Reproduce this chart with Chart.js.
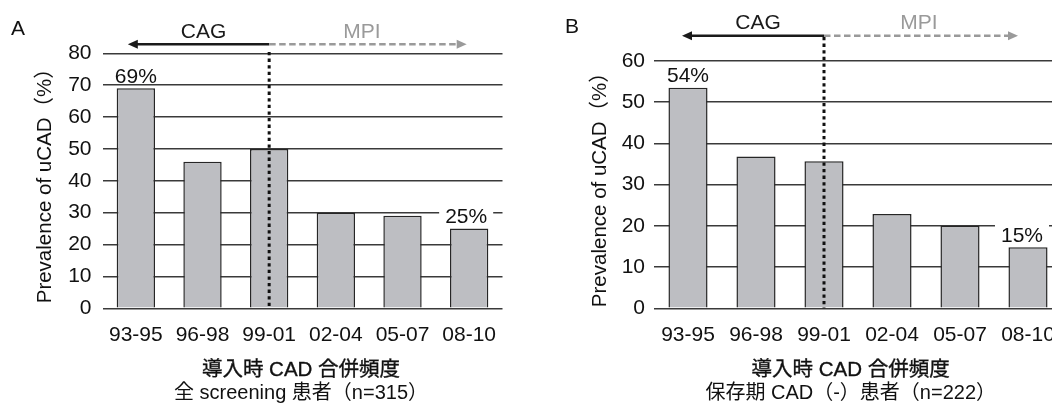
<!DOCTYPE html>
<html><head><meta charset="utf-8">
<script src="https://cdn.jsdelivr.net/npm/chart.js@4"></script>
<style>
html,body{margin:0;padding:0;background:#fff;overflow:hidden;width:1052px;height:403px;position:relative;}
#wrapA{position:absolute;left:0;top:0;width:530px;height:403px;}
#wrapB{position:absolute;left:530px;top:0;width:540px;height:403px;}
canvas{display:block;}
</style></head><body>
<div id="wrapA"><canvas id="cA" width="530" height="403"></canvas></div>
<div id="wrapB"><canvas id="cB" width="540" height="403"></canvas></div>
<script>
// ---- data ----
const categories = ["93-95", "96-98", "99-01", "02-04", "05-07", "08-10"];
const valuesA = [69, 46, 50, 30, 29, 25];
const valuesB = [53.5, 36.8, 35.7, 22.9, 20, 14.8];
const pctLabelsA = ["69%", "", "", "", "", "25%"];
const pctLabelsB = ["54%", "", "", "", "", "15%"];
const yTicksA = [0, 10, 20, 30, 40, 50, 60, 70, 80];
const yTicksB = [0, 10, 20, 30, 40, 50, 60];
const yTitle = "Prevalence of uCAD（%）";
const xTitleLine1 = "導入時 CAD 合併頻度";
const xTitleLine2A = "全 screening 患者（n=315）";
const xTitleLine2B = "保存期 CAD（-）患者（n=222）";
const panelLetterA = "A";
const panelLetterB = "B";
const methodLeft = "CAG";
const methodRight = "MPI";
const splitIndex = 2; // method change at 99-01

const FONT = '"Liberation Sans", "Noto Sans CJK JP", sans-serif';
const TXT = '#111111';

function annotPlugin(cfg) {
  return {
    id: 'annot_' + cfg.id,
    afterDatasetsDraw(chart) {
      const ctx = chart.ctx;
      const xs = chart.scales.x, ys = chart.scales.y;
      const ca = chart.chartArea;
      ctx.save();
      // percent labels
      ctx.font = '21px ' + FONT;
      ctx.textAlign = 'center';
      ctx.textBaseline = 'middle';
      cfg.pct.forEach((t, i) => {
        if (!t) return;
        const x = xs.getPixelForValue(i) + (i === cfg.pct.length - 1 ? cfg.lastLblOff : 0);
        const y = ys.getPixelForValue(cfg.values[i]) - 11.5;
        if (i === cfg.pct.length - 1) {
          const w = ctx.measureText(t).width + 12;
          ctx.fillStyle = '#fff';
          ctx.fillRect(x - w / 2, y - 11, w, 22);
        }
        ctx.fillStyle = TXT;
        ctx.fillText(t, x, y);
      });
      // dotted vertical line
      const dx = xs.getPixelForValue(splitIndex) + cfg.dotOff;
      ctx.strokeStyle = '#111';
      ctx.lineWidth = 3;
      ctx.setLineDash([3.3, 3.3]);
      ctx.beginPath();
      ctx.moveTo(dx, cfg.dotTop);
      ctx.lineTo(dx, ca.bottom);
      ctx.stroke();
      // arrows
      const ay = cfg.arrowY;
      const lt = xs.getPixelForValue(0) + cfg.arrowLOff;
      const rt = xs.getPixelForValue(categories.length - 1) + cfg.arrowROff;
      const hl = 10, hw = 4.5;
      ctx.setLineDash([]);
      ctx.lineWidth = 2.5;
      ctx.strokeStyle = '#1a1a1a';
      ctx.beginPath(); ctx.moveTo(dx, ay); ctx.lineTo(lt + hl - 1, ay); ctx.stroke();
      ctx.fillStyle = '#1a1a1a';
      ctx.beginPath(); ctx.moveTo(lt, ay); ctx.lineTo(lt + hl, ay - hw); ctx.lineTo(lt + hl, ay + hw); ctx.closePath(); ctx.fill();
      ctx.strokeStyle = '#9a9a9a';
      ctx.setLineDash([6.5, 3.5]);
      ctx.beginPath(); ctx.moveTo(dx, ay); ctx.lineTo(rt - hl, ay); ctx.stroke();
      ctx.setLineDash([]);
      ctx.fillStyle = '#9a9a9a';
      ctx.beginPath(); ctx.moveTo(rt, ay); ctx.lineTo(rt - hl, ay - hw); ctx.lineTo(rt - hl, ay + hw); ctx.closePath(); ctx.fill();
      // method labels
      ctx.font = '21px ' + FONT;
      ctx.textBaseline = 'middle';
      ctx.fillStyle = '#1a1a1a';
      ctx.fillText(methodLeft, (lt + dx) / 2 + 5, ay - 12);
      ctx.fillStyle = '#9a9a9a';
      ctx.fillText(methodRight, (dx + rt) / 2 + cfg.mpiOff, ay - 12);
      // panel letter
      ctx.fillStyle = TXT;
      ctx.textAlign = 'left';
      ctx.font = '21px ' + FONT;
      ctx.fillText(cfg.letter, cfg.letterX, cfg.letterY);
      // x titles
      ctx.textAlign = 'center';
      ctx.font = '20.5px ' + FONT;
      ctx.strokeStyle = TXT;
      ctx.lineWidth = 0.35;
      ctx.fillText(xTitleLine1, cfg.xTitleX, 370);
      ctx.strokeText(xTitleLine1, cfg.xTitleX, 370);
      ctx.font = '20px ' + FONT;
      ctx.fillText(cfg.line2, cfg.xTitleX, 393);
      ctx.restore();
    }
  };
}

function makeChart(cfg) {
  return new Chart(document.getElementById(cfg.id), {
    type: 'bar',
    data: {
      labels: categories,
      datasets: [{
        data: cfg.values,
        backgroundColor: '#bdbec2',
        borderColor: '#262626',
        borderWidth: 1.5,
        barPercentage: 0.575,
        categoryPercentage: 1
      }]
    },
    options: {
      responsive: false,
      animation: false,
      devicePixelRatio: 1,
      layout: { padding: { left: 0, right: cfg.padRight, top: cfg.padTop, bottom: 0 } },
      plugins: { legend: { display: false }, tooltip: { enabled: false } },
      scales: {
        x: {
          grid: { display: false },
          border: { display: false },
          ticks: { font: { family: FONT, size: 21 }, color: TXT, padding: 6.5, maxRotation: 0, autoSkip: false },
          afterFit: (s) => { s.height = 403 - 308.3; }
        },
        y: {
          min: 0,
          max: cfg.ticks[cfg.ticks.length - 1],
          afterBuildTicks: (s) => { s.ticks = cfg.ticks.map(v => ({ value: v })); },
          grid: { color: '#3a3a3a', lineWidth: 1.5, drawTicks: false },
          border: { display: false },
          ticks: { font: { family: FONT, size: 21 }, color: TXT, padding: cfg.yTickPad },
          title: { display: true, text: yTitle, font: { family: FONT, size: 20.5 }, color: TXT, padding: { top: cfg.yTitlePad, bottom: 0 } },
          afterFit: (s) => { s.width = cfg.yWidth; }
        }
      }
    },
    plugins: [annotPlugin(cfg)]
  });
}

makeChart({
  id: 'cA', values: valuesA, pct: pctLabelsA, ticks: yTicksA,
  padTop: 53.3, padRight: 27.5, yWidth: 102.5, yTickPad: 11, yTitlePad: 33.4,
  dotOff: 0, dotTop: 52, arrowY: 44.3, arrowLOff: -8, arrowROff: -2.5, mpiOff: -6,
  lastLblOff: -3,
  letter: panelLetterA, letterX: 11, letterY: 29, xTitleX: 301, line2: xTitleLine2A
});
makeChart({
  id: 'cB', values: valuesB, pct: pctLabelsB, ticks: yTicksB,
  padTop: 61, padRight: 8, yWidth: 124, yTickPad: 9, yTitlePad: 58,
  dotOff: 0, dotTop: 37, arrowY: 35.7, arrowLOff: -6, arrowROff: -10, mpiOff: -2,
  lastLblOff: -6,
  letter: panelLetterB, letterX: 35, letterY: 27, xTitleX: 320.7, line2: xTitleLine2B
});
</script>
</body></html>
